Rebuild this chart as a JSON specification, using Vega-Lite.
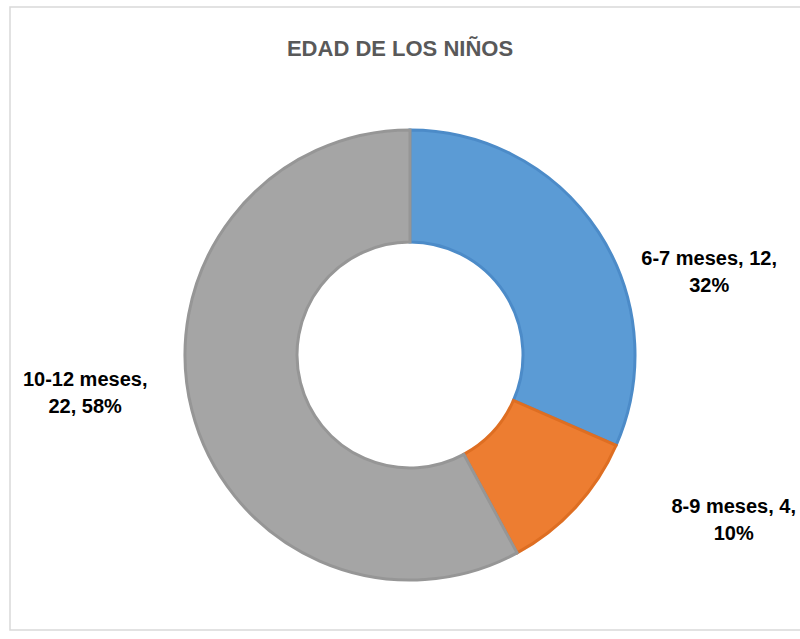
{
  "$schema": "https://vega.github.io/schema/vega-lite/v6.json",
  "autosize": "none",
  "width": 780,
  "height": 568,
  "padding": {"left": 20, "top": 71, "right": 0, "bottom": 0},
  "background": "white",
  "title": {
    "text": "EDAD DE LOS NIÑOS",
    "font": "Liberation Sans",
    "fontSize": 22,
    "fontWeight": "bold",
    "color": "#595959",
    "anchor": "middle",
    "dx": -10,
    "offset": -55
  },
  "config": {"view": {"stroke": null}},
  "data": {
    "values": [
      {"edad": "6-7 meses", "orden": 1, "ninos": 12, "etiqueta": "6-7 meses, 12,\n32%"},
      {"edad": "8-9 meses", "orden": 2, "ninos": 4, "etiqueta": "8-9 meses, 4,\n10%"},
      {"edad": "10-12 meses", "orden": 3, "ninos": 22, "etiqueta": "10-12 meses,\n22, 58%"}
    ]
  },
  "encoding": {
    "theta": {"field": "ninos", "type": "quantitative", "stack": true},
    "order": {"field": "orden", "type": "quantitative"}
  },
  "layer": [
    {
      "data": {"values": [{"marco": 1}]},
      "mark": {"type": "rect", "fill": null, "stroke": "#d9d9d9", "strokeWidth": 1.5},
      "encoding": {
        "theta": null,
        "order": null,
        "x": {"value": -10},
        "x2": {"value": 800},
        "y": {"value": -64},
        "y2": {"value": 559}
      }
    },
    {
      "mark": {"type": "arc", "radius": 225, "radius2": 113, "strokeWidth": 3},
      "encoding": {
        "color": {
          "field": "edad",
          "type": "nominal",
          "scale": {
            "domain": ["6-7 meses", "8-9 meses", "10-12 meses"],
            "range": ["#5B9BD5", "#ED7D31", "#A5A5A5"]
          },
          "legend": null
        },
        "stroke": {
          "field": "edad",
          "type": "nominal",
          "scale": {
            "domain": ["6-7 meses", "8-9 meses", "10-12 meses"],
            "range": ["#4C8BC8", "#DE6E22", "#969696"]
          },
          "legend": null
        }
      }
    },
    {
      "mark": {"type": "text", "radius": 300, "dx": 48, "dy": 68, "font": "Liberation Sans", "fontSize": 20, "fontWeight": "bold", "lineBreak": "\n", "lineHeight": 27, "align": "center", "baseline": "middle", "color": "black"},
      "encoding": {
        "text": {"condition": {"test": "datum.edad == '6-7 meses'", "field": "etiqueta"}, "value": ""}
      }
    },
    {
      "mark": {"type": "text", "radius": 300, "dx": 103, "dy": -51, "font": "Liberation Sans", "fontSize": 20, "fontWeight": "bold", "lineBreak": "\n", "lineHeight": 27, "align": "center", "baseline": "middle", "color": "black"},
      "encoding": {
        "text": {"condition": {"test": "datum.edad == '8-9 meses'", "field": "etiqueta"}, "value": ""}
      }
    },
    {
      "mark": {"type": "text", "radius": 300, "dx": -34, "dy": -49, "font": "Liberation Sans", "fontSize": 20, "fontWeight": "bold", "lineBreak": "\n", "lineHeight": 27, "align": "center", "baseline": "middle", "color": "black"},
      "encoding": {
        "text": {"condition": {"test": "datum.edad == '10-12 meses'", "field": "etiqueta"}, "value": ""}
      }
    }
  ]
}
